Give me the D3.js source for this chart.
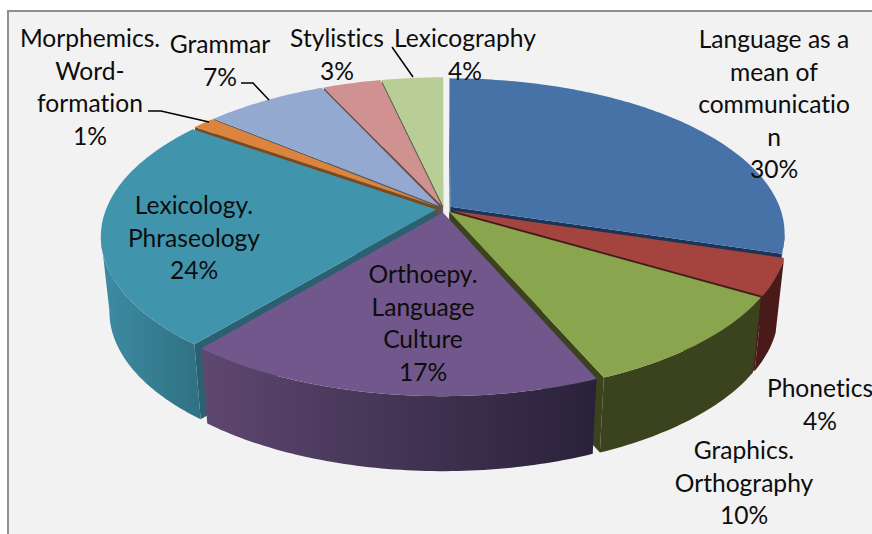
<!DOCTYPE html>
<html><head><meta charset="utf-8">
<script src="https://cdn.jsdelivr.net/npm/d3@7/dist/d3.min.js"></script>
<style>html,body{margin:0;padding:0;background:#fff}svg{display:block}</style>
</head><body><svg id="c" width="872" height="534"></svg>
<script>
const categories = ["Language as a mean of communication","Phonetics","Graphics. Orthography","Orthoepy. Language Culture","Lexicology. Phraseology","Morphemics. Word-formation","Grammar","Stylistics","Lexicography"];
const values = [29.8,3.8,10,17.3,24,1.3,7,3.3,3.5];
const labelLines = [
  ["Language as a","mean of","communicatio","n"],
  ["Phonetics"],
  ["Graphics.","Orthography"],
  ["Orthoepy.","Language","Culture"],
  ["Lexicology.","Phraseology"],
  ["Morphemics.","Word-","formation"],
  ["Grammar"],
  ["Stylistics"],
  ["Lexicography"]
];
const topColors  = ["#4672a8","#a5443f","#89a54e","#71578c","#4095ad","#db843d","#93a9cf","#d09291","#b9cd96"];
const sideColors = ["#1c3557","#4a1a18","#3b431e","#3a2d4e","#2a6070","#7a4a20","#4b5a75","#6b4a4a","#5f6b4b"];
const wallFrom   = ["#1c3557","#4a1a18","#3b431e","#29213a","#2f7182","#7a4a20","#4b5a75","#6b4a4a","#5f6b4b"];
const wallTo     = ["#1c3557","#4a1a18","#3b431e","#5e4770","#3d8ca3","#7a4a20","#4b5a75","#6b4a4a","#5f6b4b"];
const labelAnchors = [[774,39],[820,388],[744,450],[423,274],[194,205],[90,38],[220,44],[337,38],[465,38]];
const leaders = {8:[[392,47],[413,77]],6:[[241,83],[253,83],[269,100]],5:[[148,111],[161,111],[209,122]]};

const cx=444, cy=209, A=151, B=330, K=0.17, DEPTH=75, SHRINK=0.975, EXPLODE=0.024;
const svg=d3.select("#c");
svg.append("rect").attr("x",8).attr("y",11).attr("width",880).attr("height",540)
  .attr("fill","#f2f2f2").attr("stroke","#8f8f8f").attr("stroke-width",2);
const defs=svg.append("defs");
const arcs=d3.pie().sort(null).value(d=>d)(values);
const color=d3.scaleOrdinal(d3.range(values.length),topColors);
const line=d3.line();
function proj(u,v){const w=1+K*v;return [cx+u*B/w,cy-v*A/w];}
function down(p){return [cx+(p[0]-cx)*SHRINK,p[1]+DEPTH];}
const SIL=Math.acos(-K);

const slices=arcs.map((a,i)=>{
  const mid=(a.startAngle+a.endAngle)/2, ex=Math.sin(mid)*EXPLODE, ey=Math.cos(mid)*EXPLODE;
  const P=t=>proj(Math.sin(t)+ex,Math.cos(t)+ey);
  return {a,i,mid,P,apex:proj(ex,ey)};
}).sort((p,q)=>Math.cos(q.mid)-Math.cos(p.mid));

slices.forEach(s=>{
  const {a,i,P,apex}=s, g=svg.append("g");
  const steps=Math.max(4,Math.ceil((a.endAngle-a.startAngle)*60));
  const samples=d3.range(steps+1).map(k=>a.startAngle+(a.endAngle-a.startAngle)*k/steps);
  const rim=samples.map(P);
  [[a.startAngle,1],[a.endAngle,-1]].forEach(([t,sgn])=>{
    const r=P(t), q=[apex,r,down(r),down(apex)];
    if(d3.polygonArea(q)*sgn>0) g.append("path").attr("d",line(q)+"Z").attr("fill",sideColors[i]);
  });
  const lo=Math.max(a.startAngle,SIL), hi=Math.min(a.endAngle,2*Math.PI-SIL);
  if(hi>lo){
    const vis=d3.range(steps+1).map(k=>P(lo+(hi-lo)*k/steps));
    const wall=vis.concat(vis.map(down).reverse());
    const id="w"+i, xs=d3.extent(wall,d=>d[0]);
    const gr=defs.append("linearGradient").attr("id",id).attr("gradientUnits","userSpaceOnUse")
      .attr("x1",xs[1]).attr("x2",xs[0]).attr("y1",0).attr("y2",0);
    gr.append("stop").attr("offset",0).attr("stop-color",wallFrom[i]);
    gr.append("stop").attr("offset",1).attr("stop-color",wallTo[i]);
    g.append("path").attr("d",line(wall)+"Z").attr("fill",`url(#${id})`);
  }
  g.append("path").attr("d",line([apex].concat(rim))+"Z").attr("fill",color(i));
});

Object.entries(leaders).forEach(([k,pts])=>{
  svg.append("path").attr("d",line(pts)).attr("fill","none").attr("stroke","#000").attr("stroke-width",1.5);
});

const LH=32.5;
values.forEach((v,i)=>{
  const lines=labelLines[i].concat([Math.round(v)+"%"]), [x,y]=labelAnchors[i];
  const t=svg.append("text").attr("font-family","Lato, sans-serif").attr("font-size",24.6)
    .attr("fill","#0d0d0d").attr("text-anchor","middle").style("font-variant-ligatures","none");
  lines.forEach((l,n)=>t.append("tspan").attr("x",x).attr("y",y+n*LH+9).text(l));
});
</script></body></html>
